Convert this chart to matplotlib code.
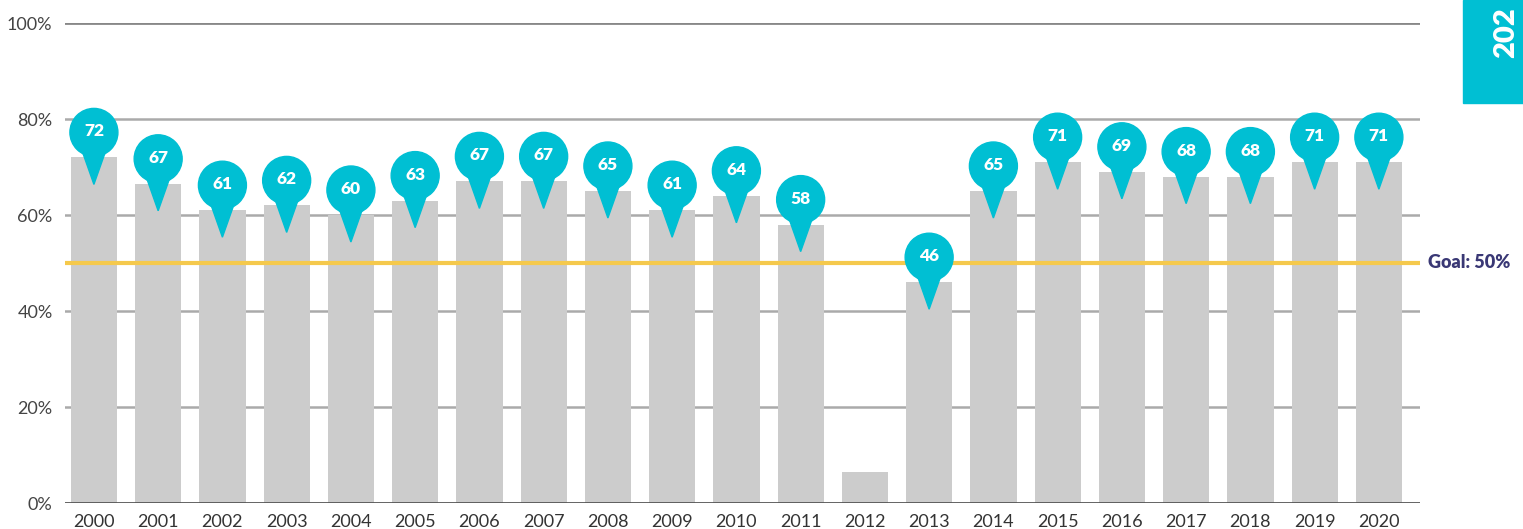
import matplotlib.pyplot as plt
from matplotlib.patches import Polygon, Circle

years = [str(y) for y in range(2000, 2021)]
rates = [72, 66.5, 61, 62, 60, 63, 67, 67, 65, 61, 64, 58, 6.5, 46, 65, 71, 69, 68, 68, 71, 71]
pin_labels = ['72', '67', '61', '62', '60', '63', '67', '67', '65', '61', '64', '58', None,
              '46', '65', '71', '69', '68', '68', '71', '71']
goal = 50
yticks = [0, 20, 40, 60, 80, 100]

teal = '#00BFD3'
navy = '#3A3875'
bar_grey = '#CCCCCC'

plt.rcParams['font.family'] = ['Lato', 'DejaVu Sans']

fig = plt.figure(figsize=(15.23, 5.29), dpi=100)
ax = fig.add_axes([65 / 1523, 26 / 529, (1420 - 65) / 1523, (506 - 26) / 529])

x = list(range(len(years)))
ax.bar(x, rates, width=0.72, color=bar_grey, zorder=2)

# grid lines
for t in yticks[1:-1]:
    ax.axhline(t, color='#AAAAAA', lw=1.8, zorder=1)
ax.axhline(100, color='#888888', lw=2, zorder=1)
ax.axhline(0, color='#555555', lw=2, zorder=3)
ax.axhline(goal, color='#F5C94C', lw=3, zorder=3)

ax.set_xlim(-0.45, 20.64)
ax.set_ylim(0, 100)
ax.set_yticks(yticks)
ax.set_yticklabels([f'{t}%' for t in yticks], fontsize=13, color='#444444')
ax.set_xticks(x)
ax.set_xticklabels(years, fontsize=13, color='#333333')
ax.tick_params(length=0)
ax.tick_params(axis='x', pad=8)
ax.tick_params(axis='y', pad=9)
for s in ax.spines.values():
    s.set_visible(False)

# pins: circle above the bar top with a point going down into the bar
for xi, v, lab in zip(x, rates, pin_labels):
    if lab is None:
        continue
    base = ax.transData.transform((xi, v))
    cx, cy = base[0], base[1] + 25
    r = 24
    circ = Circle((cx, cy), r, transform=None, color=teal, zorder=5, clip_on=False)
    tri = Polygon([(cx - 12, cy - 18), (cx + 12, cy - 18), (cx, base[1] - 27)],
                  closed=True, transform=None, color=teal, zorder=5, clip_on=False)
    fig.patches.append(circ)
    fig.patches.append(tri)
    fig.text(cx / fig.bbox.width, (cy + 1) / fig.bbox.height, lab, ha='center', va='center',
             color='white', fontsize=12.5, fontweight='heavy', zorder=6)

ax.text(1.006, goal, 'Goal: 50%', transform=ax.get_yaxis_transform(), ha='left', va='center',
        fontsize=13, fontweight='heavy', color=navy)

# teal tab on the right edge
fig.patches.append(plt.Rectangle((1463 / 1523, 1 - 103 / 529), 60 / 1523, 103 / 529,
                                 transform=fig.transFigure, color=teal, zorder=0))
fig.text(1506 / 1523, 1 - 58 / 529, '202', rotation=90, ha='center', va='bottom',
         color='white', fontsize=21, fontweight='heavy')

fig.savefig('out.png', dpi=100)
